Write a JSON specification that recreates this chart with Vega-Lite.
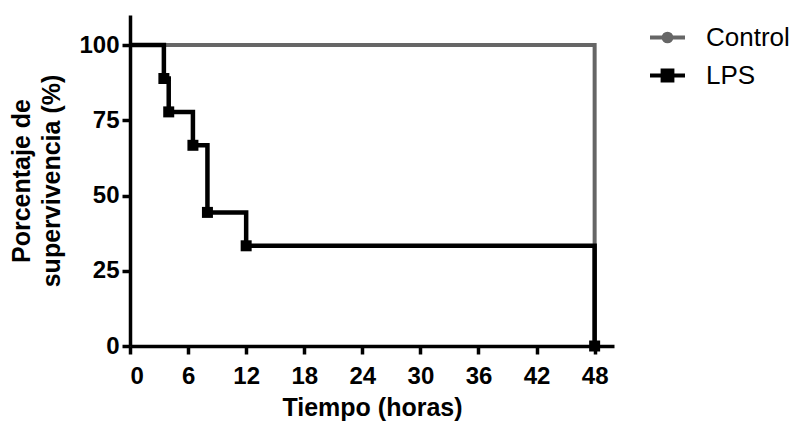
{
  "$schema": "https://vega.github.io/schema/vega-lite/v6.json",
  "width": 484,
  "height": 331,
  "autosize": {"type": "none"},
  "padding": {"left": 130, "top": 15, "right": 175, "bottom": 79},
  "background": "white",
  "config": {
    "view": {"stroke": null},
    "font": "Liberation Sans",
    "axis": {
      "grid": false,
      "domainColor": "black",
      "domainWidth": 3.5,
      "tickColor": "black",
      "tickWidth": 3.5,
      "tickSize": 8,
      "labelFont": "Liberation Sans",
      "labelFontSize": 24,
      "labelFontWeight": "bold",
      "labelColor": "black",
      "titleFont": "Liberation Sans",
      "titleFontSize": 25,
      "titleFontWeight": "bold",
      "titleColor": "black"
    }
  },
  "data": {
    "values": [
      {"grupo": "Control", "tiempo": 0, "supervivencia": 100, "evento": false},
      {"grupo": "Control", "tiempo": 48, "supervivencia": 0, "evento": false},
      {"grupo": "LPS", "tiempo": 0, "supervivencia": 100, "evento": false},
      {"grupo": "LPS", "tiempo": 3.5, "supervivencia": 88.9, "evento": true},
      {"grupo": "LPS", "tiempo": 4, "supervivencia": 77.8, "evento": true},
      {"grupo": "LPS", "tiempo": 6.5, "supervivencia": 66.7, "evento": true},
      {"grupo": "LPS", "tiempo": 8, "supervivencia": 44.4, "evento": true},
      {"grupo": "LPS", "tiempo": 12, "supervivencia": 33.3, "evento": true},
      {"grupo": "LPS", "tiempo": 48, "supervivencia": 0, "evento": true}
    ]
  },
  "encoding": {
    "x": {
      "field": "tiempo",
      "type": "quantitative",
      "scale": {"domain": [0, 50], "nice": false, "zero": false},
      "axis": {"values": [0, 6, 12, 18, 24, 30, 36, 42, 48], "title": "Tiempo (horas)", "labelPadding": 10, "titlePadding": 7}
    },
    "y": {
      "field": "supervivencia",
      "type": "quantitative",
      "scale": {"domain": [0, 110], "nice": false},
      "axis": {"values": [0, 25, 50, 75, 100], "title": ["Porcentaje de", "supervivencia (%)"], "titleLineHeight": 30, "labelPadding": 3, "titlePadding": 14}
    },
    "color": {
      "field": "grupo",
      "type": "nominal",
      "scale": {"domain": ["Control", "LPS"], "range": ["#666666", "#000000"]},
      "legend": {
        "title": null,
        "orient": "none",
        "legendX": 518,
        "legendY": 3,
        "padding": 0,
        "labelFont": "Liberation Sans",
        "labelFontSize": 26,
        "labelColor": "black",
        "labelOffset": 19,
        "rowPadding": 5,
        "symbolSize": 1225,
        "symbolStrokeWidth": 4,
        "encode": {
          "symbols": {
            "update": {
              "shape": {"signal": "datum.value === 'Control' ? 'M-1,0H1M-0.22,0A0.22,0.22 0 1,0 0.22,0A0.22,0.22 0 1,0 -0.22,0Z' : 'M-1,0H1M-0.28,-0.28H0.28V0.28H-0.28Z'"},
              "fill": {"scale": "color", "field": "value"},
              "stroke": {"scale": "color", "field": "value"},
              "strokeWidth": {"value": 4},
              "opacity": {"value": 1},
              "fillOpacity": {"value": 1}
            }
          }
        }
      }
    }
  },
  "layer": [
    {
      "transform": [{"filter": "datum.grupo === 'Control'"}],
      "mark": {"type": "line", "interpolate": "step-after", "strokeWidth": 4}
    },
    {
      "transform": [{"filter": "datum.grupo === 'LPS'"}],
      "mark": {"type": "line", "interpolate": "step-after", "strokeWidth": 4.5}
    },
    {
      "transform": [{"filter": "datum.evento"}],
      "mark": {"type": "point", "shape": "square", "filled": true, "size": 121, "opacity": 1}
    }
  ]
}
